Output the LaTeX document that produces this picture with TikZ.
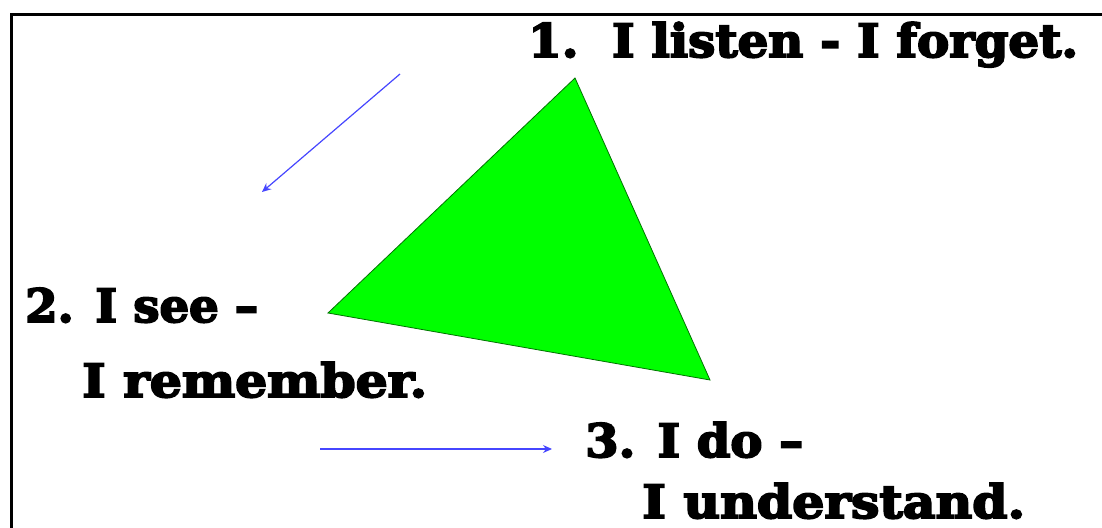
\documentclass[tikz,border=0pt]{standalone}
\usepackage{fontspec}
\usepackage{graphicx}
\newfontfamily\heavyfont{DejaVu Serif}[BoldFeatures={FakeBold=4}]
\usetikzlibrary{arrows.meta}
\definecolor{arrowblue}{RGB}{70,70,255}
\definecolor{trigreen}{RGB}{0,255,0}
\newcommand{\fitline}[2]{\resizebox{#1}{\height}{#2}}
\tikzset{
  label text/.style={anchor=base west, inner sep=0pt, font=\heavyfont\bfseries\fontsize{46}{46}\selectfont},
  blue arrow/.style={draw=arrowblue, line width=1.2pt, -{Stealth[length=9pt,width=8pt]}},
  frame line/.style={draw=black, line width=3pt}
}
\begin{document}
\begin{tikzpicture}[x=1pt,y=-1pt]
\useasboundingbox (0,0) rectangle (1102,527);
% frame
\draw[frame line] (11,530) -- (11,15) -- (1105,15);
% triangle
\coordinate (ta) at (575,78);
\coordinate (tb) at (328,313);
\coordinate (tc) at (710,380);
\filldraw[fill=trigreen, draw=black!55!green, line width=0.8pt] (ta) -- (tb) -- (tc) -- cycle;
% texts
\node[label text] (l1) at (528,57) {\fitline{550pt}{1.\ \ I listen - I forget.}};
\node[label text] (l2a) at (25,322) {\fitline{233pt}{2. I see –}};
\node[label text] (l2b) at (82,397) {\fitline{345pt}{I remember.}};
\node[label text] (l3a) at (585,457) {\fitline{218pt}{3. I do –}};
\node[label text] (l3b) at (642,518) {\fitline{383pt}{I understand.}};
% arrows
\coordinate (a1s) at (400,74);
\coordinate (a1e) at (262,192);
\coordinate (a2s) at (320,449);
\coordinate (a2e) at (552,449);
\draw[blue arrow] (a1s) -- (a1e);
\draw[blue arrow] (a2s) -- (a2e);
\end{tikzpicture}
\end{document}
